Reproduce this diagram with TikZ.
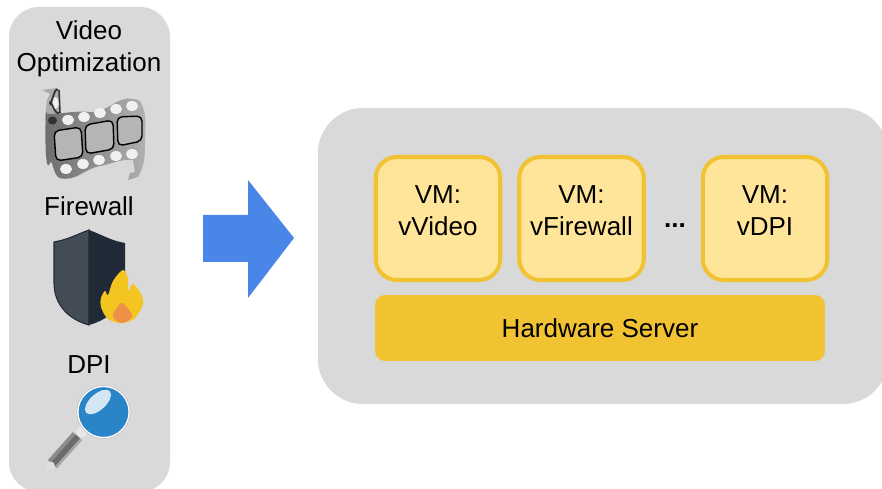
\documentclass[tikz,border=0pt]{standalone}
\usepackage[HTML]{xcolor}
\usepackage{fontspec}
\setmainfont{Liberation Sans}
\usepackage{tikz}
\usetikzlibrary{positioning, calc}

\definecolor{panelgray}{HTML}{D9D9D9}
\definecolor{vmfill}{HTML}{FFE599}
\definecolor{hwgold}{HTML}{F1C232}
\definecolor{arrowblue}{HTML}{4A86E8}
\definecolor{shieldlight}{HTML}{434C55}
\definecolor{shielddark}{HTML}{1F2A36}
\definecolor{flameyellow}{HTML}{F4C520}
\definecolor{flameorange}{HTML}{EE9148}
\definecolor{lensblue}{HTML}{2A85C8}

\tikzset{
  labeltext/.style={font=\fontsize{14.8}{18}\selectfont, align=center, text=black, inner sep=0pt},
  vmbox/.style={labeltext, draw=hwgold, fill=vmfill, line width=2.3pt, rounded corners=0.42cm,
    minimum width=2.49cm, minimum height=2.46cm},
  hwbox/.style={labeltext, fill=hwgold, rounded corners=0.2cm, minimum width=9cm, minimum height=1.32cm},
  filmhole/.style={fill=gray!12},
  filmframe/.style={draw=black, line width=0.8pt, fill=gray!58, rounded corners=0.1cm},
}

\begin{document}
\begin{tikzpicture}[x=0.02cm,y=-0.02cm]
\useasboundingbox (0,0) rectangle (882,489);
\clip (0,0) rectangle (882,489);

% panels
\fill[panelgray, rounded corners=0.6cm] (9,7) rectangle (170,492);
\fill[panelgray, rounded corners=0.9cm] (318,108) rectangle (888,404);

% arrow
\fill[arrowblue] (203,215)--(248,215)--(248,180)--(294,238)--(248,298)--(248,262)--(203,262)--cycle;

% left labels
\node[labeltext] (videolabel) at (89,48.5) {Video\\Optimization};
\node[labeltext] (firewalllabel) at (89,206) {Firewall};
\node[labeltext] (dpilabel) at (89,364.5) {DPI};

% film strip
\fill[gray!65] (42,90)--(50,89)--(57,88)--(60,97)--(60,113)--(50,118)--(47,130)--(45,117)--(47,100)--(50,94)--cycle;
\fill[gray!12] (55,103) ellipse (4 and 6);
\shade[left color=gray!85!black, right color=gray!60] (47,114) to[out=0,in=175] (90,112) to[out=-5,in=170] (133,99)
  to[out=-10,in=150] (140,101) to[out=-60,in=90] (145,140) to[out=-90,in=60] (138,177)
  -- (128,180) -- (130,173) -- (135,172) -- (133,160) to[out=175,in=10] (100,166) to[out=190,in=-15] (60,178)
  to[out=170,in=70] (50,163) to[out=-110,in=95] (47,114)--cycle;
\draw[black!80, line width=1pt] (58,90) to[out=130,in=-80] (50,103) to[out=80,in=200] (59,113);
\draw[black!80, line width=0.9pt] (59,90)--(60,113);
\fill[black!80] (52.5,120.5) ellipse (4.5 and 4);
\fill[filmhole] (68,120) ellipse (6 and 5);
\fill[filmhole] (84,117) ellipse (6 and 5);
\fill[filmhole] (100,113) ellipse (6 and 5);
\fill[filmhole] (116,109) ellipse (6 and 5);
\fill[filmhole] (132,106) ellipse (6 and 5);
\fill[filmhole] (66,169) ellipse (6 and 5);
\fill[filmhole] (83,164) ellipse (6 and 5);
\fill[filmhole] (99,160) ellipse (6 and 5);
\fill[filmhole] (116,156) ellipse (6 and 5);
\fill[filmhole] (132,154) ellipse (6 and 5);
\draw[filmframe] (54,131)--(81,127)--(83,157)--(56,161)--cycle;
\draw[filmframe] (85,125)--(113,120)--(114,149)--(86,154)--cycle;
\draw[filmframe] (117,117)--(142,116)--(142,141)--(118,146)--cycle;

% shield
\fill[shieldlight, draw=shielddark, line width=0.6pt] (89,230) to[out=200,in=10] (54,242) -- (54,283)
  to[out=-90,in=165] (89,325)--cycle;
\fill[shielddark] (89,230) to[out=-20,in=170] (125,243) -- (125,283) to[out=-90,in=15] (89,325)--cycle;

% flame
\fill[flameyellow] plot[smooth cycle, tension=0.55] coordinates {(123,270) (128,279) (128,291) (133,284)
  (141,294) (143,304) (135,318) (122,323) (108,319) (101,307) (101,298) (105,291) (108,295) (113,281)};
\fill[flameorange] plot[smooth cycle, tension=0.6] coordinates {(122,303) (129,310) (132,317) (122,323) (113,317) (116,309)};

% magnifier
\draw[line width=6.8pt, black!45] (77.3,436)--(52.3,464);
\draw[line width=3.2pt, black!58, shift={(0.5,0.5)}] (77.3,436)--(52.3,464);
\draw[line width=1.4pt, black!35, shift={(3.6,3.6)}] (77.3,436)--(52.3,464);
\fill[gray!18] (81.7,431.7) circle (5.5);
\fill[gray!25] (50.5,466) circle (4.5);
\fill[lensblue, draw=white, line width=1pt] (103.5,412) circle (25.8);
\draw[gray!55, line width=0.3pt] (103.5,412) circle (26.6);
\fill[white, opacity=0.8, rotate around={42:(98,402)}] (98,402) ellipse (16 and 8);

% server
\node[vmbox] (vmvideo) at (438,218.5) {VM:\\vVideo\\[-0.32cm]};
\node[vmbox] (vmfirewall) at (581.5,218.5) {VM:\\vFirewall\\[-0.32cm]};
\node[vmbox] (vmdpi) at (765,218.5) {VM:\\vDPI\\[-0.32cm]};
\node[labeltext, font=\fontsize{14.8}{18}\selectfont\bfseries] (vmdots) at (675,226) {...};
\node[hwbox] (hwserver) at (600,328) {Hardware Server};
\end{tikzpicture}
\end{document}
